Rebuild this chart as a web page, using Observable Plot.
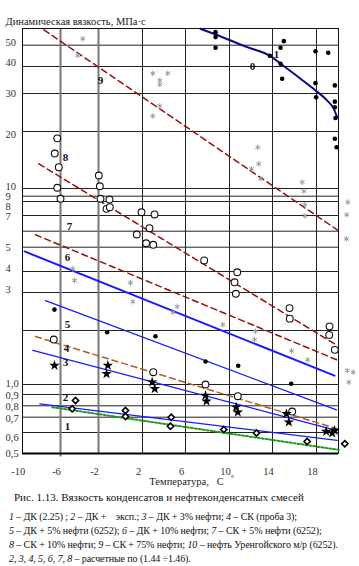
<!DOCTYPE html>
<html><head><meta charset="utf-8">
<script src="https://cdn.jsdelivr.net/npm/d3@7"></script>
<script src="https://cdn.jsdelivr.net/npm/@observablehq/plot@0.6"></script>
<style>
body{margin:0;background:#fff;font-family:"Liberation Serif","Times New Roman",serif;color:#111;}
#chart svg{display:block}
#cap .t{font-size:11px;line-height:14px;padding-left:14px;white-space:nowrap;}
#cap .l{font-size:10px;line-height:14px;padding-left:9px;white-space:nowrap;letter-spacing:-0.1px;}
#cap .first{margin-top:6px;}
</style></head><body>
<div id="chart"></div>
<div id="cap">
<div class="t">Рис. 1.13. Вязкость конденсатов и нефтеконденсатных смесей</div>
<div class="l first"><i>1</i> – ДК (2.25) ; <i>2</i> – ДК + &nbsp;&nbsp;&nbsp;эксп.; <i>3</i> – ДК + 3% нефти; <i>4</i> – СК (проба 3);</div>
<div class="l"><i>5</i> – ДК + 5% нефти (6252); <i>6</i> – ДК + 10% нефти; <i>7</i> – СК + 5% нефти (6252);</div>
<div class="l"><i>8</i> – СК + 10% нефти; <i>9</i> – СК + 75% нефти; <i>10</i> – нефть Уренгойского м/р (6252).</div>
<div class="l"><i>2, 3, 4, 5, 6, 7, 8</i> – расчетные по (1.44 ÷1.46).</div>
</div>
<script>
// ---- axis ticks ----
const xTicks = [-10, -6, -2, 2, 6, 10, 14, 18];
const xTickLabels = ["-10", "-6", "-2", "2", "6", "10", "14", "18"];
const xGridThick = [-6, -2];
const xGridThin = [2, 6, 10, 14, 18];
const yTicks = [0.5, 0.6, 0.7, 0.8, 0.9, 1, 3, 4, 5, 7, 8, 9, 10, 20, 30, 40, 50];
const yTickLabels = ["0,5", "0,6", "0,7", "0,8", "0,9", "1,0", "3", "4", "5", "7", "8", "9", "10", "20", "30", "40", "50"];
const yGrid = [0.6, 0.7, 0.8, 0.9, 1, 2, 3, 4, 5, 6, 7, 8, 9, 10, 20, 30, 40, 50];

// ---- lines (temperature, viscosity) ----
const line1 = [[-8.16, 0.817], [19.9, 0.56]];
const line2 = [[-6.87, 0.787], [20.06, 0.516]];
const line3 = [[-8.89, 1.55], [19.9, 0.612]];
const line4 = [[-8.61, 1.85], [19.9, 0.623]];
const line5 = [[-7.57, 2.75], [19.84, 0.763]];
const line6 = [[-9.76, 4.81], [19.66, 1.12]];
const line7 = [[-8.61, 5.76], [19.9, 1.37]];
const line8 = [[-8.27, 13.5], [19.91, 1.65]];
const line9 = [[-7.74, 59.3], [20.0, 6.04]];
const line10 = [[7.36, 60], [8.57, 56.8], [11.65, 49.0], [13.75, 44.8], [14.73, 41.2], [16.55, 35.1], [17.91, 31.0], [18.99, 27.8], [19.57, 25.6], [19.9, 23.3]];

// ---- measured points ----
const pts10 = [[8.73, 57.8], [8.73, 54.7], [8.73, 48.7], [15.03, 52.3], [14.73, 48.7], [13.75, 44.8], [14.73, 41.2], [14.88, 35.1], [17.91, 46.9], [19.08, 46.2], [17.91, 33.5], [17.97, 28.8], [19.69, 32.7], [19.69, 27.5], [19.69, 25.9], [19.75, 23.1], [19.69, 18.3], [19.85, 16.5]];
const pts5 = [[-6.63, 2.5], [-1.21, 1.956], [3.21, 1.858], [7.82, 1.344], [10.81, 1.271], [15.7, 1.009]];
const pts8 = [[-6.34, 18.4], [-6.6, 15.3], [-6.18, 12.96], [-6.34, 10.09], [-6.0, 8.5], [-1.97, 11.71], [-1.88, 10.28], [-1.82, 8.5], [-1.0, 8.36], [-1.27, 7.46], [-0.97, 7.58], [1.91, 7.22], [3.12, 7.07], [2.65, 6.18], [1.48, 5.78], [2.34, 5.23], [3.0, 5.14], [7.7, 4.43], [10.72, 3.96], [10.47, 3.45], [10.59, 2.96], [15.55, 2.54], [15.57, 2.27], [19.2, 2.09], [19.17, 1.89], [19.69, 1.56]];
const pts4 = [[-6.7, 1.781], [3.0, 1.171], [7.82, 1.0], [10.77, 0.884], [15.79, 0.748]];
const pts9 = [[-3.65, 53.7], [-4.18, 44.9], [2.96, 37.2], [4.35, 37.2], [3.61, 34.5], [3.61, 33.0], [3.61, 26.3], [2.96, 23.6], [12.63, 16.5], [12.72, 13.5], [12.05, 12.7], [12.91, 11.25], [16.7, 10.8], [16.85, 9.64], [16.94, 7.75], [16.94, 6.98], [20.89, 7.95], [20.79, 7.05], [20.76, 5.5]];
const pts67 = [[-4.71, 4.1], [-4.53, 3.54], [0.91, 3.43], [1.12, 2.72], [5.23, 2.58], [4.82, 2.43], [9.39, 2.13], [12.42, 1.98], [12.33, 1.78], [15.73, 1.54], [17.21, 1.373], [20.83, 1.197], [21.38, 1.171], [20.98, 1.03]];
const pts3 = [[-6.63, 1.276], [-1.15, 1.276], [-1.27, 1.147], [2.9, 1.03], [3.14, 0.956], [7.82, 0.891], [7.91, 0.839], [10.62, 0.787], [10.77, 0.742], [15.27, 0.729], [15.48, 0.666], [18.89, 0.606], [19.44, 0.597], [19.66, 0.612]];
const pts2 = [[-4.42, 0.846], [-4.77, 0.772], [0.45, 0.757], [0.45, 0.706], [4.67, 0.7], [4.6, 0.639], [9.48, 0.618], [12.51, 0.597], [17.15, 0.555], [20.61, 0.544]];

// ---- line number labels ----
const lineLabelText = ["9", "8", "7", "6", "5", "4", "3", "2", "1", "0", "1"];
const lineLabelX = [-1.82, -5.47, -5.05, -5.26, -5.26, -5.37, -5.47, -5.47, -5.26, 12.14, 14.36];
const lineLabelY = [34.5, 14.6, 6.29, 4.55, 2.13, 1.59, 1.33, 0.872, 0.637, 40, 45.4];

const W = 359, H = 490;
const xy = {x: d => d[0], y: d => d[1]};
const labels = lineLabelText.map((t, i) => ({t, x: lineLabelX[i], y: lineLabelY[i]}));

// small vertical nudges of y tick labels (pixels), as in the scanned figure
const yLabelShift = [0, 5, 1, 1, 1, -1, -3, -3, 0, 1, 5, 0, -2, 3, 0, -4, -3];
const yLabelRows = yTicks.map((v, i) => ({v, t: yTickLabels[i], s: yLabelShift[i]}));
const shifts = [...new Set(yLabelShift)];
const yLabelMarks = shifts.map(s => Plot.text(yLabelRows.filter(r => r.s === s), {
  y: "v", text: "t", frameAnchor: "left", dx: -17, dy: s, textAnchor: "start", fill: "#333"
}));

const chart = Plot.plot({
  width: W, height: H,
  marginLeft: 22, marginRight: 21, marginTop: 28, marginBottom: 37,
  style: {fontFamily: "'Liberation Serif','Times New Roman',serif", fontSize: "10.5px", background: "#fff", color: "#222"},
  x: {type: "linear", domain: [-10, -6, -2, 2, 6, 10, 14, 18, 20], range: [21.7, 60, 98, 142, 185, 229, 272, 316, 337.7], axis: null},
  y: {type: "log", domain: [0.5, 0.6, 0.7, 0.8, 0.9, 1, 2, 3, 4, 5, 6, 7, 8, 9, 10, 20, 30, 40, 50, 60],
      range: [453, 432, 416.7, 405.3, 394, 384, 330, 292, 271, 246.7, 230.7, 215, 201, 195.7, 188, 131, 93, 66, 44.7, 28.3], axis: null},
  marks: [
    Plot.ruleY(yGrid, {stroke: "#222", strokeWidth: 1}),
    Plot.ruleX(xGridThin, {stroke: "#222", strokeWidth: 1}),
    Plot.ruleX(xGridThick, {stroke: "#777", strokeWidth: 2}),
    Plot.ruleX([-6], {y1: 0.5, y2: 0.485, stroke: "#777", strokeWidth: 2}),
    Plot.frame({stroke: "#111", strokeWidth: 1}),
    Plot.ruleY([0.5], {stroke: "#000", strokeWidth: 2}),
    // lines
    Plot.line(line9, {...xy, stroke: "#9b0d0d", strokeWidth: 1.5, strokeDasharray: "6,4"}),
    Plot.line(line8, {...xy, stroke: "#9b0d0d", strokeWidth: 1.5, strokeDasharray: "6,4"}),
    Plot.line(line7, {...xy, stroke: "#9b0d0d", strokeWidth: 1.5, strokeDasharray: "6,4"}),
    Plot.line(line6, {...xy, stroke: "#1a1aff", strokeWidth: 2}),
    Plot.line(line5, {...xy, stroke: "#1a1aff", strokeWidth: 1.3}),
    Plot.line(line4, {...xy, stroke: "#b85a1e", strokeWidth: 1.5, strokeDasharray: "6,4"}),
    Plot.line(line3, {...xy, stroke: "#1a1aff", strokeWidth: 1.3}),
    Plot.line(line2, {...xy, stroke: "#1f9a1f", strokeWidth: 2, strokeDasharray: "2,2"}),
    Plot.line(line1, {...xy, stroke: "#1a1aff", strokeWidth: 1.3}),
    Plot.line(line10, {...xy, stroke: "#0a0a8a", strokeWidth: 2, curve: "monotone-x"}),
    // points
    Plot.dot(pts9, {...xy, symbol: "asterisk", r: 2.6, stroke: "#999", strokeWidth: 1}),
    Plot.dot(pts67, {...xy, symbol: "asterisk", r: 2.6, stroke: "#999", strokeWidth: 1}),
    Plot.dot(pts8, {...xy, symbol: "circle", r: 3.4, fill: "#fff", stroke: "#111", strokeWidth: 1.1}),
    Plot.dot(pts4, {...xy, symbol: "circle", r: 3.4, fill: "#fff", stroke: "#111", strokeWidth: 1.1}),
    Plot.dot(pts10, {...xy, symbol: "circle", r: 2.3, fill: "#000", stroke: "none"}),
    Plot.dot(pts5, {...xy, symbol: "circle", r: 2.3, fill: "#000", stroke: "none"}),
    Plot.dot(pts3, {...xy, symbol: "star", r: 3.3, fill: "#000", stroke: "none"}),
    Plot.dot(pts2, {...xy, symbol: "diamond2", r: 2.8, fill: "#fff", stroke: "#000", strokeWidth: 1.6}),
    // line labels
    Plot.text(labels, {x: "x", y: "y", text: "t", fontWeight: "bold", fontSize: 11, fill: "#111"}),
    // tick labels
    ...yLabelMarks,
    Plot.text(xTicks, {x: d => d, text: (d, i) => xTickLabels[i], frameAnchor: "bottom", dy: 21, dx: -4, fill: "#333"}),
    // axis titles
    Plot.text(["Динамическая вязкость, МПа·с"], {frameAnchor: "top-left", dx: -17, dy: -11, textAnchor: "start", fill: "#222", fontSize: 10.5}),
    Plot.text(["Температура,   С"], {frameAnchor: "bottom", dy: 31, dx: 6, fill: "#222", fontSize: 10.5}),
    Plot.text(["°"], {frameAnchor: "bottom", dy: 27, dx: 52, fill: "#222", fontSize: 9})
  ]
});
document.getElementById("chart").appendChild(chart);
</script>
</body></html>
